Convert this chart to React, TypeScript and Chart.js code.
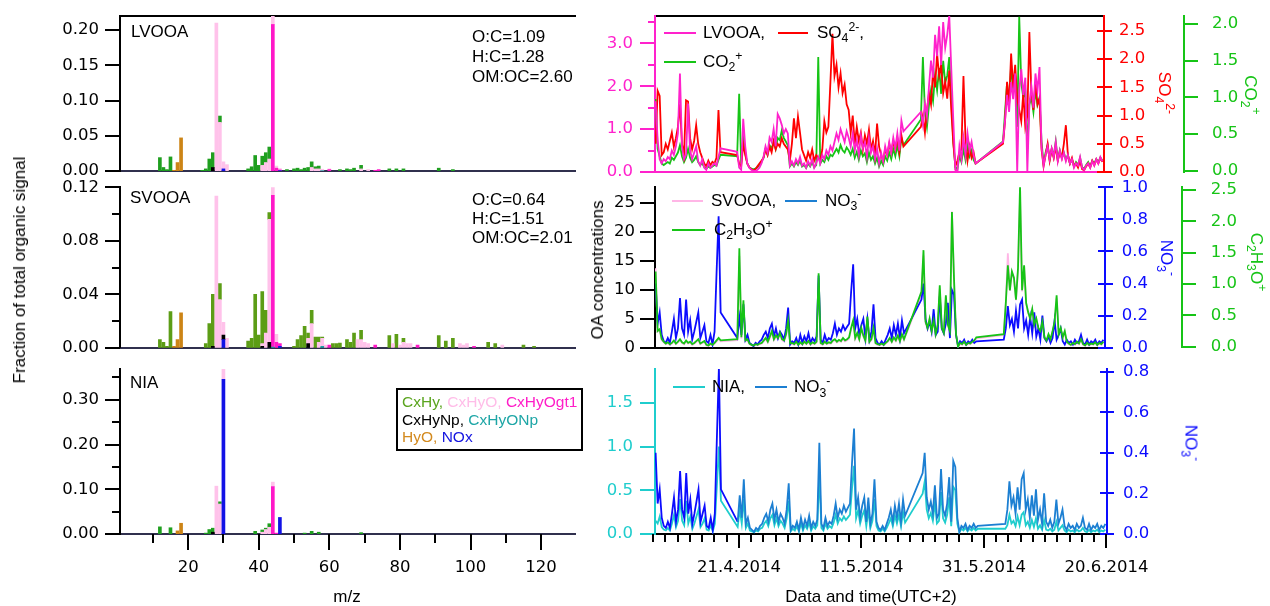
import React, { useEffect, useRef } from 'react';
import { Chart, registerables } from 'chart.js';

Chart.register(...registerables);

const W = 1270;
const H = 606;
const FONT = '"Liberation Sans", Arial, Helvetica, sans-serif';
const TICK_FONT = '"DejaVu Sans", Verdana, sans-serif';
Chart.defaults.font.family = TICK_FONT;
Chart.defaults.font.size = 16.5;
Chart.defaults.color = '#000';

// ---------------- mass spectra: fraction of total organic signal per m/z ----------------
const MZ_MIN = 0.7;
const MZ_MAX = 129.6;
const MZ_MAJOR = [20, 40, 60, 80, 100, 120];
const MZ_MINOR = [10, 30, 50, 70, 90, 110];

type Pair = [number, number];

const LVOOA_CXHY: Pair[] = [[12, 0.019], [13, 0.005], [14, 0.002], [15, 0.02], [24, 0.001], [25, 0.003], [26, 0.017], [27, 0.021], [29, 0.009], [37, 0.003], [38, 0.006], [39, 0.022], [40, 0.008], [41, 0.013], [42, 0.014], [43, 0.017], [48, 0.002], [50, 0.003], [51, 0.004], [52, 0.002], [53, 0.004], [54, 0.005], [55, 0.008], [56, 0.003], [57, 0.004], [63, 0.002], [65, 0.003], [66, 0.002], [67, 0.004], [69, 0.005], [77, 0.003], [79, 0.003], [81, 0.003], [91, 0.004], [95, 0.002]];
const LVOOA_CXHYO: Pair[] = [[28, 0.21], [29, 0.069], [30, 0.01], [31, 0.009], [41, 0.008], [42, 0.012], [43, 0.017], [44, 0.012], [45, 0.003], [46, 0.002], [55, 0.005], [56, 0.003], [57, 0.003], [58, 0.002], [60, 0.001], [69, 0.003], [71, 0.002]];
const LVOOA_CXHYOGT1: Pair[] = [[44, 0.208], [45, 0.004], [46, 0.001], [60, 0.002], [73, 0.001], [74, 0.002]];
const LVOOA_CXHYNP: Pair[] = [[27, 0.005]];
const LVOOA_CXHYONP: Pair[] = [[58, 0.0005]];
const LVOOA_HYO: Pair[] = [[16, 0.001], [17, 0.012], [18, 0.047]];
const LVOOA_NOX: Pair[] = [[30, 0.003], [46, 0.0005]];

const SVOOA_CXHY: Pair[] = [[12, 0.006], [13, 0.004], [14, 0.001], [15, 0.027], [25, 0.003], [26, 0.018], [27, 0.039], [29, 0.012], [37, 0.005], [38, 0.007], [39, 0.04], [40, 0.0095], [41, 0.039], [42, 0.017], [43, 0.005], [50, 0.001], [51, 0.006], [52, 0.009], [53, 0.016], [54, 0.004], [55, 0.01], [56, 0.008], [57, 0.004], [58, 0.001], [61, 0.003], [62, 0.003], [63, 0.0035], [65, 0.006], [66, 0.004], [67, 0.011], [69, 0.007], [77, 0.009], [79, 0.01], [81, 0.003], [91, 0.009], [93, 0.005], [95, 0.007], [105, 0.004], [107, 0.003], [115, 0.002], [118, 0.001]];
const SVOOA_CXHYO: Pair[] = [[28, 0.1135], [29, 0.036], [30, 0.0095], [31, 0.007], [41, 0.002], [42, 0.011], [43, 0.092], [44, 0.0065], [45, 0.006], [54, 0.004], [55, 0.018], [57, 0.004], [58, 0.006], [59, 0.002], [68, 0.006], [69, 0.006], [70, 0.004], [71, 0.003], [78, 0.003], [80, 0.002], [81, 0.004], [82, 0.003], [83, 0.003], [97, 0.003], [98, 0.002], [99, 0.003], [109, 0.002]];
const SVOOA_CXHYOGT1: Pair[] = [[44, 0.1135], [45, 0.004], [46, 0.002], [60, 0.002], [73, 0.002], [85, 0.002], [101, 0.001]];
const SVOOA_CXHYNP: Pair[] = [[27, 0.001], [30, 0.0035], [41, 0.001], [43, 0.004], [54, 0.003]];
const SVOOA_CXHYONP: Pair[] = [[44, 0.0005], [58, 0.001]];
const SVOOA_HYO: Pair[] = [[16, 0.001], [17, 0.006], [18, 0.026]];
const SVOOA_NOX: Pair[] = [[30, 0.006], [46, 0.001]];

const NIA_CXHY: Pair[] = [[12, 0.016], [15, 0.014], [25, 0.002], [26, 0.01], [27, 0.009], [29, 0.005], [39, 0.006], [41, 0.005], [42, 0.003], [43, 0.008], [53, 0.002], [55, 0.006], [57, 0.004], [69, 0.003]];
const NIA_CXHYO: Pair[] = [[28, 0.107], [29, 0.067], [30, 0.025], [41, 0.004], [42, 0.01], [43, 0.015], [44, 0.01]];
const NIA_CXHYOGT1: Pair[] = [[44, 0.106], [45, 0.002]];
const NIA_CXHYNP: Pair[] = [[27, 0.004]];
const NIA_CXHYONP: Pair[] = [];
const NIA_HYO: Pair[] = [[17, 0.007], [18, 0.024]];
const NIA_NOX: Pair[] = [[30, 0.346], [46, 0.037]];

// ---------------- time series (days after 7.4.2014, 8-hour steps within each run) ----------------
const STEP_DAYS = 1 / 3;
const SEG_START = [0.4, 13.8, 44.0, 57.5];
const DAY_MIN = 0.3;
const DAY_MAX = 74.1;
const DATE_TICKS = [14, 34, 54, 74];
const DATE_LABELS = ['21.4.2014', '11.5.2014', '31.5.2014', '20.6.2014'];

const LVOOA_TS = [
  [1.65, 0.75, 0.3, 0.2, 0.3, 0.25, 0.35, 0.3, 0.5, 0.4, 0.6, 0.9, 2.3, 0.6, 0.3, 0.4, 1.6, 0.5, 0.3, 0.45, 0.6, 0.25, 0.15, 0.3, 0.1, 0.05, 0.2, 0.1, 0.15, 0.2, 0.15, 0.35, 0.55],
  [0.47, 0.1, 0.05, 1.24, 0.6, 0.2, 0.1, 0.05, 0.03, 0.02, 0.05, 0.1, 0.2, 0.35, 0.6, 0.45, 0.8, 0.7, 1.0, 0.6, 1.35, 1.25, 1.1, 0.9, 1.0, 0.9, 0.15, 0.25, 0.15, 0.3, 0.2, 0.35, 0.15, 0.2, 0.1, 0.25, 0.15, 0.3, 0.1, 0.2, 0.35, 0.2, 0.4, 0.3, 0.5, 0.4, 0.6, 0.5, 0.7, 0.9, 0.75, 1.0, 0.85, 0.7, 0.95, 0.8, 0.6, 0.9, 0.5, 0.75, 0.4, 0.85, 0.55, 0.7, 0.35, 0.8, 0.45, 0.6, 0.3, 0.55, 0.2, 0.45, 0.25, 0.6, 0.4, 0.7, 0.45, 0.8, 0.55, 0.9, 0.5, 1.2, 0.95],
  [1.4, 1.1, 1.6, 1.3, 2.0, 2.6, 2.2, 3.2, 2.7, 3.4, 2.5, 3.5, 2.9, 3.2, 3.65, 2.4, 1.2, 0.05, 0.0, 0.6, 0.3, 0.8, 0.4, 0.9, 0.5, 0.7, 0.4, 0.2],
  [0.7, 1.2, 1.8, 1.4, 2.1, 1.7, 2.3, 0.0, 1.9, 2.4, 1.8, 2.2, 0.0, 1.6, 2.0, 1.5, 2.3, 1.9, 2.45, 0.6, 0.15, 0.4, 0.6, 0.3, 0.55, 0.35, 0.7, 0.25, 0.5, 0.3, 0.45, 0.25, 0.4, 0.2, 0.3, 0.1, 0.2, 0.15, 0.35, 0.1, 0.05, 0.15, 0.2, 0.1, 0.25, 0.15, 0.3, 0.2, 0.35, 0.25],
];
const SO4_TS = [
  [0.5, 1.44, 1.35, 0.3, 0.35, 0.5, 0.4, 0.55, 0.7, 0.45, 0.6, 0.8, 1.2, 0.5, 0.3, 1.27, 1.25, 0.6, 0.4, 0.55, 0.83, 0.5, 0.35, 0.25, 0.15, 0.1, 0.2, 0.12, 0.18, 0.15, 0.25, 1.1, 0.35],
  [0.3, 0.15, 0.1, 0.5, 0.3, 0.15, 0.08, 0.05, 0.03, 0.05, 0.1, 0.15, 0.2, 0.25, 0.4, 0.3, 0.45, 0.35, 0.55, 0.4, 0.5, 0.45, 0.6, 0.5, 0.45, 0.4, 0.2, 0.5, 0.95, 0.6, 0.98, 0.7, 0.4, 0.3, 0.2, 0.35, 0.25, 0.4, 0.2, 0.3, 0.25, 0.2, 0.4, 0.9, 0.7, 0.8, 1.6, 2.45, 1.7, 1.9, 1.5, 1.75, 1.4, 1.55, 1.2, 1.1, 0.7, 1.0, 0.5, 0.8, 0.55, 0.7, 0.4, 0.65, 0.5, 0.75, 0.4, 0.55, 0.3, 0.86, 0.45, 0.3, 0.2, 0.4, 0.3, 0.5, 0.35, 0.55, 0.4, 0.6, 0.35, 0.65, 0.45],
  [0.8, 1.0, 0.7, 1.1, 1.4, 1.2, 1.8, 1.5, 2.1, 1.7, 1.9, 1.4, 1.6, 1.3, 1.8, 1.1, 0.5, 0.1, 0.2, 0.35, 0.4, 1.7, 0.6, 0.2, 0.45, 0.25, 0.35, 0.15],
  [0.5, 0.9, 1.6, 1.2, 2.1, 1.5, 1.9, 1.3, 1.1, 0.9, 1.4, 0.8, 1.0, 2.48, 1.4, 1.1, 1.6, 1.2, 1.3, 0.4, 0.1, 0.3, 0.5, 0.2, 0.4, 0.25, 0.45, 0.2, 0.35, 0.25, 0.5, 0.83, 0.3, 0.15, 0.25, 0.1, 0.15, 0.08, 0.2, 0.05, 0.03, 0.1, 0.15, 0.08, 0.2, 0.12, 0.22, 0.15, 0.25, 0.18],
];
const CO2_TS = [
  [0.98, 0.3, 0.2, 0.1, 0.08, 0.1, 0.12, 0.1, 0.18, 0.15, 0.2, 0.25, 0.35, 0.2, 0.12, 0.18, 0.3, 0.18, 0.12, 0.15, 0.2, 0.12, 0.08, 0.1, 0.05, 0.03, 0.06, 0.04, 0.06, 0.08, 0.07, 0.15, 0.22],
  [0.2, 1.05, 0.1, 0.45, 0.25, 0.1, 0.05, 0.03, 0.02, 0.03, 0.05, 0.08, 0.12, 0.18, 0.3, 0.22, 0.35, 0.3, 0.4, 0.3, 0.45, 0.42, 0.55, 0.45, 0.4, 0.35, 0.06, 0.1, 0.06, 0.12, 0.08, 0.14, 0.06, 0.08, 0.04, 0.1, 0.06, 0.12, 0.05, 0.08, 1.55, 0.1, 0.15, 0.12, 0.2, 0.15, 0.22, 0.2, 0.25, 0.3, 0.25, 0.35, 0.28, 0.25, 0.32, 0.28, 0.22, 0.3, 0.18, 0.26, 0.15, 0.28, 0.2, 0.24, 0.12, 0.25, 0.15, 0.2, 0.1, 0.18, 0.06, 0.14, 0.08, 0.2, 0.14, 0.25, 0.16, 0.3, 0.2, 0.35, 0.2, 0.45, 0.35],
  [0.7, 1.55, 0.8, 0.6, 0.9, 1.1, 0.95, 1.3, 1.1, 1.4, 1.05, 1.5, 1.2, 1.3, 1.55, 1.0, 0.4, 0.05, 0.02, 0.2, 0.12, 0.3, 0.15, 0.35, 0.2, 0.28, 0.15, 0.1],
  [0.4, 0.8, 1.2, 0.9, 1.45, 1.1, 1.3, 0.6, 2.1, 1.2, 1.0, 1.1, 0.3, 0.9, 1.0, 0.8, 1.1, 0.9, 1.0, 0.4, 0.1, 0.25, 0.35, 0.15, 0.3, 0.2, 0.4, 0.15, 0.28, 0.18, 0.25, 0.15, 0.22, 0.1, 0.16, 0.06, 0.12, 0.08, 0.18, 0.05, 0.03, 0.08, 0.12, 0.06, 0.14, 0.1, 0.16, 0.12, 0.18, 0.14],
];
const SVOOA_TS = [
  [13.7, 2.8, 3.0, 1.3, 0.9, 0.6, 0.8, 0.5, 0.7, 1.1, 0.6, 0.9, 1.3, 0.8, 0.6, 1.1, 0.7, 0.9, 0.5, 0.7, 1.0, 1.3, 0.6, 0.8, 1.0, 0.4, 0.3, 0.6, 0.4, 0.7, 1.1, 1.5, 1.1],
  [1.3, 15.8, 1.6, 7.6, 1.1, 1.3, 0.6, 0.4, 0.3, 0.5, 0.4, 0.6, 0.7, 1.1, 1.5, 0.9, 1.7, 2.6, 1.3, 1.9, 1.5, 2.3, 1.3, 1.1, 2.1, 4.4, 0.6, 0.7, 0.5, 0.9, 0.4, 0.8, 0.5, 0.9, 0.6, 1.0, 0.5, 0.8, 0.6, 0.9, 12.0, 0.7, 0.5, 0.9, 0.6, 0.8, 0.7, 1.1, 1.3, 0.9, 1.2, 1.0, 1.5, 1.1, 1.3, 1.6, 3.1, 4.4, 1.5, 2.3, 1.3, 3.1, 1.9, 1.1, 4.9, 0.9, 1.3, 3.1, 0.7, 0.5, 0.4, 0.6, 0.4, 0.7, 1.0, 1.5, 0.9, 1.6, 1.1, 1.9, 1.0, 2.1, 1.3],
  [9.2, 15.9, 4.3, 3.2, 4.8, 2.7, 4.5, 2.2, 3.7, 10.2, 3.2, 2.4, 8.8, 3.8, 2.7, 23.5, 11.6, 2.2, 0.1, 0.7, 0.5, 0.9, 0.4, 0.7, 0.6, 0.9, 1.1, 1.6],
  [2.2, 7.6, 16.3, 9.8, 13.0, 11.8, 8.2, 13.4, 26.0, 9.7, 14.0, 7.6, 6.0, 4.9, 6.5, 3.8, 4.9, 3.3, 2.7, 4.3, 1.6, 1.1, 2.2, 1.3, 2.7, 4.3, 8.6, 2.2, 3.2, 1.6, 2.7, 0.9, 0.6, 0.4, 0.7, 0.5, 0.9, 0.6, 1.3, 0.5, 0.3, 0.7, 0.4, 0.6, 0.5, 0.8, 0.4, 0.7, 0.5, 0.9],
];
const C2H3O_TS = [
  [1.2, 0.25, 0.28, 0.12, 0.08, 0.05, 0.07, 0.04, 0.06, 0.1, 0.05, 0.08, 0.12, 0.07, 0.05, 0.1, 0.06, 0.08, 0.04, 0.06, 0.09, 0.12, 0.05, 0.07, 0.09, 0.03, 0.02, 0.05, 0.03, 0.06, 0.1, 0.14, 0.1],
  [0.12, 1.57, 0.15, 0.74, 0.1, 0.12, 0.05, 0.03, 0.02, 0.04, 0.03, 0.05, 0.06, 0.1, 0.14, 0.08, 0.16, 0.25, 0.12, 0.18, 0.14, 0.22, 0.12, 0.1, 0.2, 0.42, 0.05, 0.06, 0.04, 0.08, 0.03, 0.07, 0.04, 0.08, 0.05, 0.09, 0.04, 0.07, 0.05, 0.08, 1.17, 0.06, 0.04, 0.08, 0.05, 0.07, 0.06, 0.1, 0.12, 0.08, 0.11, 0.09, 0.14, 0.1, 0.12, 0.15, 0.3, 0.42, 0.14, 0.22, 0.12, 0.3, 0.18, 0.1, 0.48, 0.08, 0.12, 0.3, 0.06, 0.04, 0.03, 0.05, 0.03, 0.06, 0.09, 0.14, 0.08, 0.15, 0.1, 0.18, 0.09, 0.2, 0.12],
  [0.88, 1.54, 0.4, 0.3, 0.45, 0.25, 0.42, 0.2, 0.35, 0.98, 0.3, 0.22, 0.82, 0.35, 0.25, 2.15, 1.1, 0.2, 0.0, 0.06, 0.04, 0.08, 0.03, 0.06, 0.05, 0.08, 0.1, 0.15],
  [0.2, 0.7, 1.3, 0.9, 1.2, 1.1, 0.75, 1.25, 2.57, 0.9, 1.3, 0.7, 0.55, 0.45, 0.6, 0.35, 0.45, 0.3, 0.25, 0.4, 0.15, 0.1, 0.2, 0.12, 0.25, 0.4, 0.82, 0.2, 0.3, 0.15, 0.25, 0.08, 0.05, 0.03, 0.06, 0.04, 0.08, 0.05, 0.12, 0.04, 0.02, 0.06, 0.03, 0.05, 0.04, 0.07, 0.03, 0.06, 0.04, 0.08],
];
const NO3_TS = [
  [0.4, 0.15, 0.22, 0.08, 0.04, 0.03, 0.06, 0.03, 0.1, 0.18, 0.06, 0.12, 0.31, 0.12, 0.08, 0.3, 0.1, 0.17, 0.05, 0.1, 0.16, 0.22, 0.06, 0.1, 0.14, 0.04, 0.03, 0.08, 0.02, 0.1, 0.47, 0.82, 0.22],
  [0.06, 0.19, 0.08, 0.27, 0.05, 0.08, 0.03, 0.02, 0.01, 0.03, 0.02, 0.04, 0.05, 0.08, 0.1, 0.06, 0.12, 0.15, 0.07, 0.12, 0.06, 0.1, 0.08, 0.05, 0.12, 0.25, 0.02, 0.04, 0.03, 0.06, 0.02, 0.08, 0.03, 0.07, 0.04, 0.09, 0.03, 0.06, 0.04, 0.07, 0.45, 0.05, 0.03, 0.08, 0.04, 0.06, 0.05, 0.09, 0.15, 0.08, 0.12, 0.1, 0.14, 0.11, 0.13, 0.15, 0.35, 0.52, 0.12, 0.18, 0.08, 0.14, 0.18, 0.06, 0.18, 0.05, 0.1, 0.27, 0.06, 0.03, 0.02, 0.04, 0.02, 0.05, 0.08, 0.12, 0.06, 0.14, 0.08, 0.15, 0.06, 0.17, 0.09],
  [0.3, 0.4, 0.18, 0.12, 0.16, 0.1, 0.24, 0.08, 0.1, 0.32, 0.12, 0.09, 0.15, 0.28, 0.06, 0.36, 0.33, 0.08, 0.01, 0.04, 0.03, 0.05, 0.02, 0.04, 0.03, 0.05, 0.03, 0.04],
  [0.05, 0.12, 0.26, 0.14, 0.18, 0.1, 0.23, 0.12, 0.27, 0.3, 0.12, 0.17, 0.08, 0.19, 0.09, 0.22, 0.07, 0.12, 0.05, 0.2, 0.06, 0.04, 0.07, 0.03, 0.06, 0.17, 0.05, 0.08, 0.12, 0.04, 0.02, 0.05, 0.03, 0.04, 0.02, 0.05, 0.03, 0.04, 0.08, 0.03, 0.02, 0.05, 0.02, 0.04, 0.03, 0.05, 0.02, 0.04, 0.03, 0.05],
];
const NIA_TS = [
  [0.15, 0.12, 0.2, 0.08, 0.05, 0.04, 0.07, 0.04, 0.12, 0.22, 0.08, 0.15, 0.4, 0.15, 0.1, 0.38, 0.12, 0.2, 0.06, 0.12, 0.2, 0.28, 0.08, 0.12, 0.18, 0.05, 0.04, 0.1, 0.03, 0.12, 0.55, 1.0, 0.38],
  [0.08, 0.28, 0.12, 0.4, 0.07, 0.12, 0.04, 0.03, 0.02, 0.04, 0.03, 0.06, 0.07, 0.12, 0.15, 0.09, 0.18, 0.22, 0.1, 0.18, 0.09, 0.15, 0.12, 0.07, 0.18, 0.38, 0.03, 0.06, 0.04, 0.09, 0.03, 0.12, 0.04, 0.1, 0.06, 0.13, 0.04, 0.09, 0.06, 0.1, 0.68, 0.07, 0.04, 0.12, 0.06, 0.09, 0.07, 0.13, 0.22, 0.12, 0.18, 0.15, 0.2, 0.16, 0.19, 0.22, 0.52, 0.78, 0.18, 0.27, 0.12, 0.21, 0.27, 0.09, 0.27, 0.07, 0.15, 0.4, 0.09, 0.04, 0.03, 0.06, 0.03, 0.07, 0.12, 0.18, 0.09, 0.21, 0.12, 0.22, 0.09, 0.25, 0.13],
  [0.46, 0.6, 0.28, 0.18, 0.24, 0.15, 0.36, 0.12, 0.15, 0.48, 0.18, 0.13, 0.22, 0.42, 0.09, 0.54, 0.5, 0.12, 0.02, 0.06, 0.04, 0.07, 0.03, 0.06, 0.04, 0.07, 0.04, 0.06],
  [0.06, 0.1, 0.22, 0.12, 0.15, 0.09, 0.2, 0.1, 0.22, 0.25, 0.1, 0.14, 0.07, 0.16, 0.08, 0.18, 0.06, 0.1, 0.05, 0.16, 0.05, 0.04, 0.06, 0.03, 0.05, 0.14, 0.04, 0.07, 0.1, 0.04, 0.02, 0.05, 0.03, 0.04, 0.02, 0.05, 0.03, 0.04, 0.07, 0.03, 0.02, 0.05, 0.02, 0.04, 0.03, 0.05, 0.02, 0.04, 0.03, 0.05],
];

// ---------------- colours ----------------
const C_CXHY_BRIGHT = '#1f9f1f';
const C_CXHY_OLIVE = '#5c9d16';
const C_CXHYO = '#ffc2ea';
const C_CXHYOGT1 = '#ff18c8';
const C_CXHYNP = '#000000';
const C_CXHYONP = '#1aa3a3';
const C_HYO = '#cc8416';
const C_NOX = '#1212e6';
const C_BASE = '#30304e';

const C_MAGENTA = '#ff22cc';
const C_RED = '#ff0000';
const C_GREEN = '#16c416';
const C_PINK = '#ffb6e6';
const C_BLUE = '#0c0cff';
const C_STEEL = '#1c7fd2';
const C_CYAN = '#1fcdcd';

// ---------------- helpers ----------------
type TickMark = { axis: string; values: number[]; inner: number; outer: number; color: string };

function tickMarks(marks: TickMark[]) {
  return {
    id: 'tickMarks',
    afterDraw(chart: any) {
      const ctx = chart.ctx;
      ctx.save();
      ctx.lineWidth = 2;
      for (const m of marks) {
        const sc = chart.scales[m.axis];
        if (!sc) continue;
        ctx.strokeStyle = m.color;
        ctx.beginPath();
        for (const v of m.values) {
          const p = Math.round(sc.getPixelForValue(v));
          if (sc.isHorizontal()) {
            const base = Math.round(sc.top);
            ctx.moveTo(p, base - m.inner);
            ctx.lineTo(p, base + m.outer);
          } else if (sc.position === 'left') {
            const base = Math.round(sc.right);
            ctx.moveTo(base + m.inner, p);
            ctx.lineTo(base - m.outer, p);
          } else {
            const base = Math.round(sc.left);
            ctx.moveTo(base - m.inner, p);
            ctx.lineTo(base + m.outer, p);
          }
        }
        ctx.stroke();
      }
      ctx.restore();
    },
  };
}

function fixSize(w: number | null, h: number | null) {
  return (s: any) => {
    if (w !== null) s.width = w;
    if (h !== null) s.height = h;
    s.paddingLeft = 0;
    s.paddingRight = 0;
    s.paddingTop = 0;
    s.paddingBottom = 0;
  };
}

function yAxis(o: { pos: 'left' | 'right'; min: number; max: number; major: number[]; dec: number; color: string; width: number; pad: number }) {
  return {
    type: 'linear',
    position: o.pos,
    min: o.min,
    max: o.max,
    grid: { display: false, drawTicks: false },
    border: { display: true, color: o.color, width: 2 },
    ticks: { color: o.color, padding: o.pad, autoSkip: false, callback: (v: number) => Number(v).toFixed(o.dec) },
    afterBuildTicks: (s: any) => {
      s.ticks = o.major.map((v) => ({ value: v }));
    },
    afterFit: fixSize(o.width, null),
  };
}

function xAxis(o: { pos: 'top' | 'bottom'; min: number; max: number; color: string; height: number; major?: number[]; label?: (v: number) => string; stacked?: boolean }) {
  return {
    type: 'linear',
    position: o.pos,
    min: o.min,
    max: o.max,
    offset: false,
    stacked: !!o.stacked,
    grid: { display: false, drawTicks: false },
    border: { display: true, color: o.color, width: 2 },
    ticks: {
      display: !!o.major,
      padding: 24,
      autoSkip: false,
      maxRotation: 0,
      color: '#000',
      callback: (v: number) => (o.label ? o.label(Number(v)) : String(v)),
    },
    afterBuildTicks: (s: any) => {
      if (o.major) s.ticks = o.major.map((v) => ({ value: v }));
    },
    afterFit: fixSize(null, o.height),
  };
}

function toPoints(segs: number[][]) {
  const pts: { x: number; y: number }[] = [];
  segs.forEach((vals, s) => {
    vals.forEach((v, i) => pts.push({ x: SEG_START[s] + i * STEP_DAYS, y: v }));
  });
  return pts;
}

function pairs(d: Pair[]) {
  return d.map(([x, y]) => ({ x, y }));
}

type Area = { l: number; t: number; r: number; b: number };

function baseOptions(area: Area, leftW: number, rightW: number, bottomH: number) {
  return {
    animation: false,
    responsive: false,
    devicePixelRatio: 1,
    events: [],
    layout: {
      padding: { left: area.l - leftW, right: W - area.r - rightW, top: area.t, bottom: H - area.b - bottomH },
    },
    plugins: { legend: { display: false }, tooltip: { enabled: false } },
  };
}

// ---------------- spectrum panel ----------------
function spectrumConfig(o: {
  area: Area;
  green: string;
  fam: Pair[][]; // NOx, CxHyNp, CxHyONp, HyO, CxHyOgt1, CxHyO, CxHy (bottom to top)
  yMax: number;
  yMajor: number[];
  yMinor: number[];
  showX: boolean;
  frame: boolean;
}) {
  const colors = [C_NOX, C_CXHYNP, C_CXHYONP, C_HYO, C_CXHYOGT1, C_CXHYO, o.green];
  const labels = ['NOx', 'CxHyNp', 'CxHyONp', 'HyO', 'CxHyOgt1', 'CxHyO', 'CxHy'];
  const bottomH = o.showX ? 60 : 0;
  const marks: TickMark[] = [
    { axis: 'y', values: o.yMajor, inner: 0, outer: 15, color: '#000' },
    { axis: 'y', values: o.yMinor, inner: 0, outer: 8, color: '#000' },
  ];
  if (o.showX) {
    marks.push({ axis: 'x', values: MZ_MAJOR, inner: 0, outer: 16, color: '#000' });
    marks.push({ axis: 'x', values: MZ_MINOR, inner: 0, outer: 9, color: '#000' });
  }
  const scales: any = {
    x: xAxis({
      pos: 'bottom',
      min: MZ_MIN,
      max: MZ_MAX,
      color: C_BASE,
      height: bottomH,
      major: o.showX ? MZ_MAJOR : undefined,
      stacked: true,
    }),
    y: {
      ...yAxis({ pos: 'left', min: 0, max: o.yMax, major: o.yMajor, dec: 2, color: '#000', width: 100, pad: 21 }),
      stacked: true,
    },
  };
  if (o.frame) scales.xTop = xAxis({ pos: 'top', min: MZ_MIN, max: MZ_MAX, color: '#000', height: 0 });
  return {
    type: 'bar',
    data: {
      datasets: o.fam.map((d, i) => ({
        label: labels[i],
        data: pairs(d),
        backgroundColor: colors[i],
        borderWidth: 0,
        barThickness: 3,
      })),
    },
    options: {
      ...baseOptions(o.area, 100, 0, bottomH),
      scales,
    },
    plugins: [tickMarks(marks)],
  };
}

// ---------------- time-series panels ----------------
const MINOR_DAYS: number[] = [];
for (let d = 0; d <= 74; d += 2) if (!DATE_TICKS.includes(d)) MINOR_DAYS.push(d);

function lineSet(label: string, segs: number[][], color: string, axis: string, extra: any = {}) {
  return {
    label,
    data: toPoints(segs),
    borderColor: color,
    backgroundColor: color,
    borderWidth: 1.8,
    pointRadius: 0,
    tension: 0,
    yAxisID: axis,
    ...extra,
  };
}

function panelLVOOA() {
  const area = { l: 655, t: 16, r: 1104, b: 172 };
  return {
    type: 'line',
    data: {
      datasets: [
        lineSet('LVOOA', LVOOA_TS, C_MAGENTA, 'y'),
        lineSet('SO4', SO4_TS, C_RED, 'ySO4'),
        lineSet('CO2+', CO2_TS, C_GREEN, 'yCO2'),
      ],
    },
    options: {
      ...baseOptions(area, 60, 150, 0),
      scales: {
        x: xAxis({ pos: 'bottom', min: DAY_MIN, max: DAY_MAX, color: C_MAGENTA, height: 0 }),
        xTop: xAxis({ pos: 'top', min: DAY_MIN, max: DAY_MAX, color: '#000', height: 0 }),
        y: yAxis({ pos: 'left', min: 0, max: 3.64, major: [0, 1, 2, 3], dec: 1, color: C_MAGENTA, width: 60, pad: 22 }),
        ySO4: yAxis({ pos: 'right', min: 0, max: 2.766, major: [0, 0.5, 1, 1.5, 2, 2.5], dec: 1, color: C_RED, width: 80, pad: 15 }),
        yCO2: yAxis({ pos: 'right', min: -0.015, max: 2.11, major: [0, 0.5, 1, 1.5, 2], dec: 1, color: C_GREEN, width: 70, pad: 28 }),
      },
    },
    plugins: [
      tickMarks([
        { axis: 'y', values: [0, 1, 2, 3], inner: 0, outer: 15, color: C_MAGENTA },
        { axis: 'y', values: [0.5, 1.5, 2.5, 3.5], inner: 0, outer: 7, color: C_MAGENTA },
        { axis: 'ySO4', values: [0, 0.5, 1, 1.5, 2, 2.5], inner: 7, outer: 8, color: C_RED },
        { axis: 'yCO2', values: [0, 0.5, 1, 1.5, 2], inner: 0, outer: 14, color: C_GREEN },
      ]),
    ],
  };
}

function panelSVOOA() {
  const area = { l: 655, t: 187.3, r: 1105, b: 347.7 };
  return {
    type: 'line',
    data: {
      datasets: [
        lineSet('C2H3O+', C2H3O_TS, C_GREEN, 'yC2'),
        lineSet('NO3-', NO3_TS, C_BLUE, 'yNO3'),
        lineSet('SVOOA', SVOOA_TS, C_PINK, 'y'),
      ],
    },
    options: {
      ...baseOptions(area, 60, 146.7, 0),
      scales: {
        x: xAxis({ pos: 'bottom', min: DAY_MIN, max: DAY_MAX, color: '#000', height: 0 }),
        y: yAxis({ pos: 'left', min: 0, max: 27.66, major: [0, 5, 10, 15, 20, 25], dec: 0, color: '#000', width: 60, pad: 20 }),
        yNO3: yAxis({ pos: 'right', min: 0, max: 1.0, major: [0, 0.2, 0.4, 0.6, 0.8, 1.0], dec: 1, color: C_BLUE, width: 76.7, pad: 16.7 }),
        yC2: yAxis({ pos: 'right', min: -0.016, max: 2.543, major: [0, 0.5, 1, 1.5, 2, 2.5], dec: 1, color: C_GREEN, width: 70, pad: 29 }),
      },
    },
    plugins: [
      tickMarks([
        { axis: 'y', values: [0, 5, 10, 15, 20, 25], inner: 0, outer: 15, color: '#000' },
        { axis: 'yNO3', values: [0, 0.2, 0.4, 0.6, 0.8, 1.0], inner: 7, outer: 8, color: C_BLUE },
        { axis: 'yC2', values: [0, 0.5, 1, 1.5, 2, 2.5], inner: 0, outer: 14, color: C_GREEN },
      ]),
    ],
  };
}

function panelNIA() {
  const area = { l: 655, t: 369, r: 1107, b: 534 };
  return {
    type: 'line',
    data: {
      datasets: [
        lineSet('NO3-', NO3_TS, C_STEEL, 'yNO3', {
          segment: { borderColor: (c: any) => (c.p0.parsed.x < SEG_START[1] ? C_BLUE : C_STEEL) },
        }),
        lineSet('NIA', NIA_TS, C_CYAN, 'y'),
      ],
    },
    options: {
      ...baseOptions(area, 60, 80, 60),
      scales: {
        x: xAxis({
          pos: 'bottom',
          min: DAY_MIN,
          max: DAY_MAX,
          color: '#000',
          height: 60,
          major: DATE_TICKS,
          label: (v) => DATE_LABELS[DATE_TICKS.indexOf(v)] ?? '',
        }),
        y: yAxis({ pos: 'left', min: 0, max: 1.886, major: [0, 0.5, 1, 1.5], dec: 1, color: C_CYAN, width: 60, pad: 22 }),
        yNO3: yAxis({ pos: 'right', min: 0, max: 0.813, major: [0, 0.2, 0.4, 0.6, 0.8], dec: 1, color: C_BLUE, width: 80, pad: 16 }),
      },
    },
    plugins: [
      tickMarks([
        { axis: 'y', values: [0, 0.5, 1, 1.5], inner: 0, outer: 15, color: C_CYAN },
        { axis: 'yNO3', values: [0, 0.2, 0.4, 0.6, 0.8], inner: 7, outer: 7, color: C_BLUE },
        { axis: 'x', values: DATE_TICKS, inner: 0, outer: 14, color: '#000' },
        { axis: 'x', values: MINOR_DAYS, inner: 0, outer: 8, color: '#000' },
      ]),
    ],
  };
}

// ---------------- components ----------------
function ChartCanvas({ make }: { make: () => any }) {
  const ref = useRef<HTMLCanvasElement | null>(null);
  useEffect(() => {
    if (!ref.current) return;
    const chart = new Chart(ref.current, make());
    return () => chart.destroy();
  }, []);
  return <canvas ref={ref} width={W} height={H} style={{ position: 'absolute', left: 0, top: 0, width: W, height: H }} />;
}

const Sub = ({ t }: { t: string }) => <span style={{ fontSize: '0.72em', position: 'relative', top: '0.35em' }}>{t}</span>;
const Sup = ({ t }: { t: string }) => <span style={{ fontSize: '0.72em', position: 'relative', top: '-0.6em' }}>{t}</span>;

function Txt(p: { x: number; y: number; children: any; color?: string; size?: number; rot?: number; center?: boolean }) {
  const tx = p.center || p.rot ? '-50%' : '0';
  return (
    <div
      style={{
        position: 'absolute',
        left: p.x,
        top: p.y,
        transform: `translate(${tx}, -50%) rotate(${p.rot || 0}deg)`,
        color: p.color || '#000',
        fontSize: p.size || 17,
        lineHeight: '20px',
        whiteSpace: 'nowrap',
        fontFamily: FONT,
      }}
    >
      {p.children}
    </div>
  );
}

function Swatch({ x1, x2, y, color }: { x1: number; x2: number; y: number; color: string }) {
  return <div style={{ position: 'absolute', left: x1, top: y - 1, width: x2 - x1, height: 2, background: color }} />;
}

const FAM_TEXT = {
  cxhy: '#5ba51f',
  cxhyo: '#ffbde8',
  gt1: '#ff1ec8',
  np: '#000',
  onp: '#1ea6a6',
  hyo: '#d38a1f',
  nox: '#1515e0',
};

export default function App() {
  return (
    <div style={{ position: 'absolute', left: 0, top: 0, width: W, height: H, background: '#fff', overflow: 'hidden', fontFamily: FONT }}>
      <ChartCanvas
        make={() =>
          spectrumConfig({
            area: { l: 120, t: 16, r: 575, b: 171 },
            green: C_CXHY_BRIGHT,
            fam: [LVOOA_NOX, LVOOA_CXHYNP, LVOOA_CXHYONP, LVOOA_HYO, LVOOA_CXHYOGT1, LVOOA_CXHYO, LVOOA_CXHY],
            yMax: 0.22,
            yMajor: [0, 0.05, 0.1, 0.15, 0.2],
            yMinor: [],
            showX: false,
            frame: true,
          })
        }
      />
      <ChartCanvas
        make={() =>
          spectrumConfig({
            area: { l: 120, t: 187.3, r: 575, b: 347.7 },
            green: C_CXHY_OLIVE,
            fam: [SVOOA_NOX, SVOOA_CXHYNP, SVOOA_CXHYONP, SVOOA_HYO, SVOOA_CXHYOGT1, SVOOA_CXHYO, SVOOA_CXHY],
            yMax: 0.12,
            yMajor: [0, 0.04, 0.08, 0.12],
            yMinor: [0.02, 0.06, 0.1],
            showX: false,
            frame: false,
          })
        }
      />
      <ChartCanvas
        make={() =>
          spectrumConfig({
            area: { l: 120, t: 369, r: 575, b: 534 },
            green: C_CXHY_BRIGHT,
            fam: [NIA_NOX, NIA_CXHYNP, NIA_CXHYONP, NIA_HYO, NIA_CXHYOGT1, NIA_CXHYO, NIA_CXHY],
            yMax: 0.369,
            yMajor: [0, 0.1, 0.2, 0.3],
            yMinor: [0.05, 0.15, 0.25, 0.35],
            showX: true,
            frame: false,
          })
        }
      />
      <ChartCanvas make={panelLVOOA} />
      <ChartCanvas make={panelSVOOA} />
      <ChartCanvas make={panelNIA} />

      {/* left column text */}
      <Txt x={20} y={270} rot={-90}>Fraction of total organic signal</Txt>
      <Txt x={131} y={32}>LVOOA</Txt>
      <Txt x={130} y={197.5}>SVOOA</Txt>
      <Txt x={130} y={383}>NIA</Txt>
      <Txt x={472} y={37}>O:C=1.09</Txt>
      <Txt x={472} y={57}>H:C=1.28</Txt>
      <Txt x={472} y={77}>OM:OC=2.60</Txt>
      <Txt x={472} y={200}>O:C=0.64</Txt>
      <Txt x={472} y={218.5}>H:C=1.51</Txt>
      <Txt x={472} y={237.5}>OM:OC=2.01</Txt>
      <Txt x={347} y={597} center>m/z</Txt>
      <div
        style={{
          position: 'absolute',
          left: 396,
          top: 388,
          width: 179,
          height: 56,
          border: '2px solid #000',
          fontSize: 15.5,
          lineHeight: '17.5px',
          padding: '3px 0 0 4px',
          whiteSpace: 'nowrap',
          fontFamily: FONT,
        }}
      >
        <div>
          <span style={{ color: FAM_TEXT.cxhy }}>CxHy, </span>
          <span style={{ color: FAM_TEXT.cxhyo }}>CxHyO, </span>
          <span style={{ color: FAM_TEXT.gt1 }}>CxHyOgt1</span>
        </div>
        <div>
          <span style={{ color: FAM_TEXT.np }}>CxHyNp, </span>
          <span style={{ color: FAM_TEXT.onp }}>CxHyONp</span>
        </div>
        <div>
          <span style={{ color: FAM_TEXT.hyo }}>HyO, </span>
          <span style={{ color: FAM_TEXT.nox }}>NOx</span>
        </div>
      </div>

      {/* right column text */}
      <Txt x={598} y={270} rot={-90}>OA concentrations</Txt>
      <Txt x={871} y={597} center>Data and time(UTC+2)</Txt>

      <Txt x={1163} y={93} rot={90} color={C_RED}>
        SO<Sub t="4" />
        <Sup t="2-" />
      </Txt>
      <Txt x={1249} y={95} rot={90} color={C_GREEN}>
        CO<Sub t="2" />
        <Sup t="+" />
      </Txt>
      <Txt x={1165} y={258} rot={90} color={C_BLUE}>
        NO<Sub t="3" />
        <Sup t="-" />
      </Txt>
      <Txt x={1255} y={262} rot={90} color={C_GREEN}>
        C<Sub t="2" />H<Sub t="3" />O<Sup t="+" />
      </Txt>
      <Txt x={1190} y={443} rot={90} color={C_BLUE}>
        NO<Sub t="3" />
        <Sup t="-" />
      </Txt>

      {/* legends */}
      <Swatch x1={664} x2={696} y={33} color={C_MAGENTA} />
      <Txt x={703} y={33}>LVOOA,</Txt>
      <Swatch x1={778} x2={808} y={33} color={C_RED} />
      <Txt x={817} y={33}>
        SO<Sub t="4" />
        <Sup t="2-" />,
      </Txt>
      <Swatch x1={664} x2={696} y={62} color={C_GREEN} />
      <Txt x={703} y={62}>
        CO<Sub t="2" />
        <Sup t="+" />
      </Txt>

      <Swatch x1={672} x2={703} y={200.7} color={C_PINK} />
      <Txt x={711} y={200.7}>SVOOA,</Txt>
      <Swatch x1={785} x2={817} y={200.7} color={C_STEEL} />
      <Txt x={825} y={200.7}>
        NO<Sub t="3" />
        <Sup t="-" />
      </Txt>
      <Swatch x1={672} x2={705} y={230} color={C_GREEN} />
      <Txt x={714} y={230}>
        C<Sub t="2" />H<Sub t="3" />O<Sup t="+" />
      </Txt>

      <Swatch x1={673} x2={705} y={387.3} color={C_CYAN} />
      <Txt x={712} y={387.3}>NIA,</Txt>
      <Swatch x1={755} x2={787} y={387.3} color={C_STEEL} />
      <Txt x={794} y={387.3}>
        NO<Sub t="3" />
        <Sup t="-" />
      </Txt>
    </div>
  );
}
